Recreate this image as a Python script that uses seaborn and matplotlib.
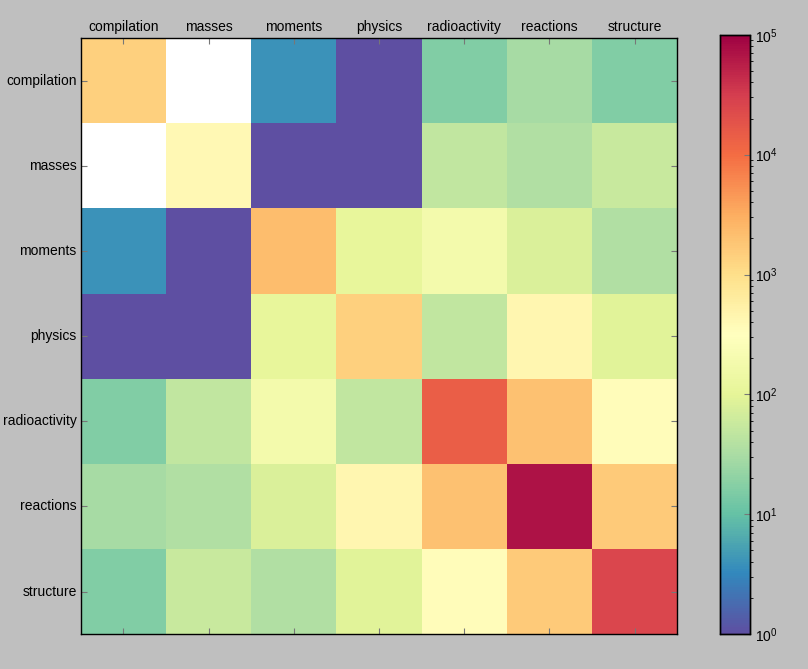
import numpy as np
import pandas as pd
import matplotlib
matplotlib.use("Agg")
import matplotlib.pyplot as plt
import seaborn as sns
from matplotlib.colors import LogNorm

categories = ["compilation", "masses", "moments", "physics",
              "radioactivity", "reactions", "structure"]

row_compilation   = [1400, 0, 4, 1, 16, 30, 16]
row_masses        = [0, 400, 1, 1, 50, 35, 55]
row_moments       = [4, 1, 2200, 110, 180, 80, 35]
row_physics       = [1, 1, 110, 1400, 50, 450, 90]
row_radioactivity = [16, 50, 180, 50, 14000, 2000, 350]
row_reactions     = [30, 35, 80, 450, 2000, 70000, 1600]
row_structure     = [16, 55, 35, 90, 350, 1600, 25000]

data = pd.DataFrame([row_compilation, row_masses, row_moments, row_physics,
                     row_radioactivity, row_reactions, row_structure],
                    index=categories, columns=categories, dtype=float)

plt.rcParams["font.family"] = ["Liberation Sans", "DejaVu Sans"]
fig = plt.figure(figsize=(8.08, 6.69), dpi=100, facecolor="#bfbfbf")
ax = fig.add_axes([0.1, 0.052, 0.738, 0.891])
cax = fig.add_axes([0.891, 0.052, 0.037, 0.896])
ax.set_facecolor("white")

sns.heatmap(data, mask=(data <= 0), cmap="Spectral_r",
            norm=LogNorm(vmin=1, vmax=1e5), ax=ax, cbar_ax=cax,
            square=False, linewidths=0)

ax.xaxis.tick_top()
ax.set_xticklabels(categories, rotation=0, fontsize=10)
ax.set_yticklabels(categories, rotation=0, fontsize=10)
ax.tick_params(axis="x", which="both", top=True, bottom=True, direction="in",
               length=4, color="#777777", pad=3)
ax.tick_params(axis="y", which="both", left=True, right=True, direction="in",
               length=4, color="#777777", pad=3)
ax.set_xlabel("")
ax.set_ylabel("")
for s in ax.spines.values():
    s.set_visible(True)
    s.set_color("black")
    s.set_linewidth(1.0)

cax.tick_params(direction="in", length=4, labelsize=10, color="#777777")
for s in cax.spines.values():
    s.set_visible(True)
    s.set_color("black")
    s.set_linewidth(1.0)

fig.savefig("out.png", dpi=100, facecolor=fig.get_facecolor())
